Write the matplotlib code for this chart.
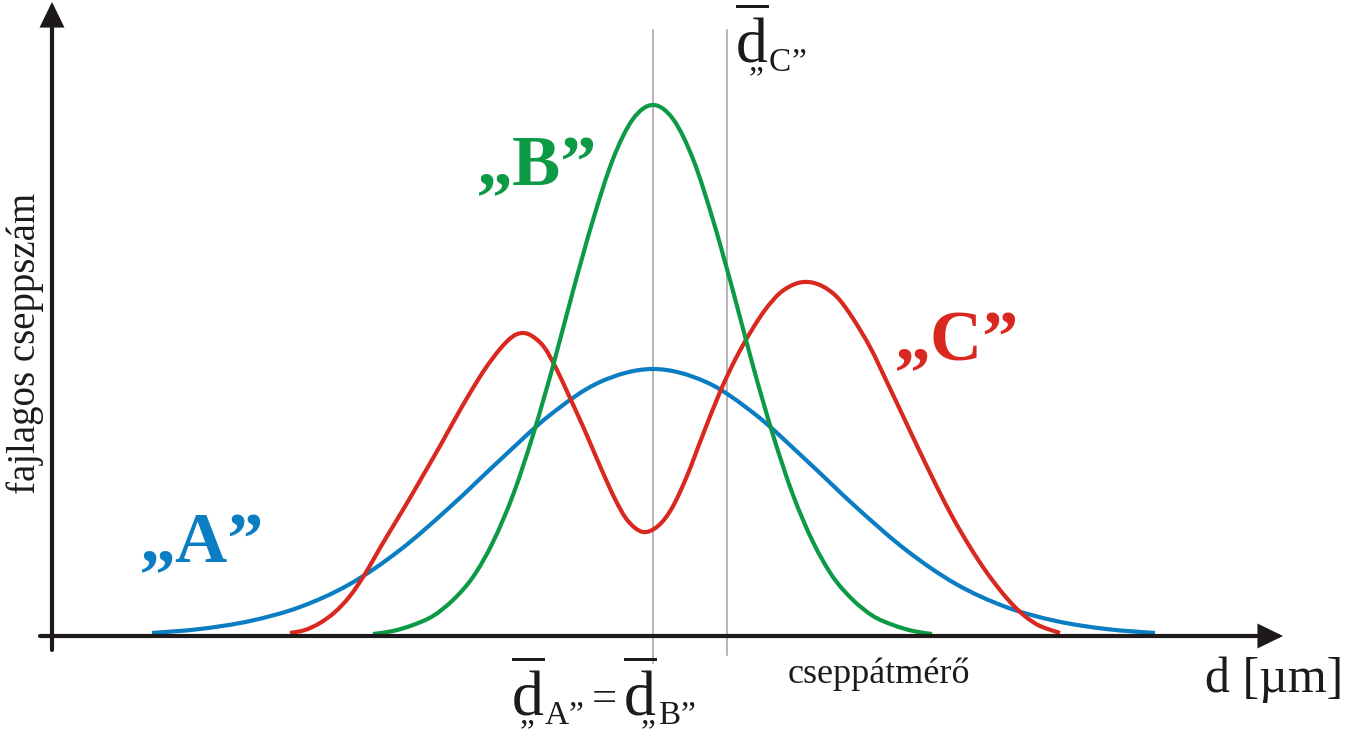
import matplotlib
matplotlib.use('Agg')
import matplotlib.pyplot as plt
import matplotlib._mathtext as _mt
from matplotlib.path import Path
from matplotlib.patches import PathPatch, FancyArrowPatch, ArrowStyle

_mt.SHRINK_FACTOR = 0.52   # smaller subscripts, as in the reference

plt.rcParams['font.family'] = ['Liberation Serif', 'DejaVu Serif']
plt.rcParams['mathtext.fontset'] = 'custom'
plt.rcParams['mathtext.rm'] = 'Liberation Serif'
plt.rcParams['mathtext.it'] = 'Liberation Serif:italic'
plt.rcParams['mathtext.bf'] = 'Liberation Serif:bold'

# ---------------- data (droplet diameter d, relative droplet count) -------------
blue_d = [152, 200, 250, 300, 350, 400, 450, 500, 550, 600, 653,
          706, 756, 806, 856, 906, 956, 1006, 1056, 1106, 1155]
blue_n = [3, 7, 15, 29, 52, 86, 129, 176, 221, 254, 267,
          254, 221, 176, 129, 86, 52, 29, 15, 7, 3]

green_d = [373, 393, 413, 433, 453, 473, 493, 513, 533, 553, 573, 593, 613, 633,
           653, 673, 693, 713, 733, 753, 773, 793, 813, 833, 853, 873, 893, 913, 932]
green_n = [2, 5, 11, 20, 36, 59, 94, 141, 201, 270, 345, 416, 477, 517,
           531, 517, 477, 416, 345, 270, 201, 141, 94, 59, 36, 20, 11, 5, 2]

red_d = [290, 305, 320, 335, 350, 365, 380, 395, 410, 425, 440, 455, 470, 485,
         500, 512, 522, 532, 544, 556, 570, 585, 600, 615, 628, 643, 658, 672,
         687, 702, 720, 735, 750, 765, 780, 795, 808, 822, 837, 852, 870, 886,
         903, 920, 937, 953, 970, 985, 1000, 1013, 1026, 1040, 1060]
red_n = [3, 6, 13, 24, 40, 62, 88, 113, 138, 164, 190, 217, 243, 267,
         287, 299, 303, 300, 289, 268, 238, 205, 170, 137, 115, 104, 110, 128,
         160, 199, 244, 276, 303, 326, 343, 352, 354, 350, 339, 319, 289, 256,
         220, 184, 149, 118, 89, 66, 46, 31, 19, 10, 3]

mean_d = [653, 727]          # mean diameters: A = B, C
series_labels = ['\u201eA\u201d', '\u201eB\u201d', '\u201eC\u201d']

BLUE = '#0b7dc3'
GREEN = '#0c9a47'
RED = '#d8281f'
AXIS = '#1e1a1a'
GRAY = '#a0a0a0'


def smooth_path(xs, ys):
    pts = list(zip(xs, ys))
    n = len(pts)
    verts = [pts[0]]
    codes = [Path.MOVETO]
    for i in range(n - 1):
        p0 = pts[i - 1] if i > 0 else pts[i]
        p1 = pts[i]
        p2 = pts[i + 1]
        p3 = pts[i + 2] if i + 2 < n else pts[i + 1]
        c1 = (p1[0] + (p2[0] - p0[0]) / 6.0, p1[1] + (p2[1] - p0[1]) / 6.0)
        c2 = (p2[0] - (p3[0] - p1[0]) / 6.0, p2[1] - (p3[1] - p1[1]) / 6.0)
        verts += [c1, c2, p2]
        codes += [Path.CURVE4] * 3
    return Path(verts, codes)


def mean_label(letter, back, gap):
    return ('$\\overline{\\mathrm{d}}_{\\hspace{%.2f}\\mathrm{\u201e}\\hspace{%.2f}'
            '\\mathrm{%s\u201d}}$' % (back, gap, letter))


fig = plt.figure(figsize=(13.45, 7.46), dpi=100)
ax = fig.add_axes([0, 0, 1, 1])
ax.set_xlim(0, 1345)
ax.set_ylim(-110, 636)
ax.axis('off')

# mean lines
ax.plot([mean_d[0], mean_d[0]], [606, -27], color=GRAY, lw=1.1, zorder=1)
ax.plot([mean_d[1], mean_d[1]], [606, -19], color=GRAY, lw=1.1, zorder=1)

# curves
for xs, ys, col, z in [(blue_d, blue_n, BLUE, 3), (red_d, red_n, RED, 4),
                       (green_d, green_n, GREEN, 5)]:
    ax.add_patch(PathPatch(smooth_path(xs, ys), facecolor='none', edgecolor=col,
                           lw=3.0, capstyle='butt', zorder=z))

# axes with arrows
style = ArrowStyle('-|>', head_length=0.45, head_width=0.22)
ax.add_patch(FancyArrowPatch((40, 0), (1283, 0), arrowstyle=style, mutation_scale=30,
                             color=AXIS, lw=3.0, shrinkA=0, shrinkB=0, zorder=6,
                             joinstyle='miter'))
ax.add_patch(FancyArrowPatch((52, -14), (52, 634), arrowstyle=style, mutation_scale=30,
                             color=AXIS, lw=3.0, shrinkA=0, shrinkB=0, zorder=6,
                             joinstyle='miter'))

# axis titles
ax.text(25, 293, 'fajlagos cseppszám', rotation=90, ha='center', va='center',
        fontsize=28, color=AXIS)
ax.text(788, -47, 'cseppátmérő', ha='left', va='baseline', fontsize=26, color=AXIS)
ax.text(1343, -56, 'd [µm]', ha='right', va='baseline', fontsize=36, color=AXIS)

# mean labels
ax.text(511, -80, mean_label('A', -1.0, 0.43), ha='left', va='baseline',
        fontsize=46, color=AXIS)
ax.text(592, -75, '=', ha='left', va='baseline', fontsize=32, color=AXIS)
ax.text(623, -80, mean_label('B', -0.6, 0.1), ha='left', va='baseline',
        fontsize=46, color=AXIS)
ax.text(735, 573, mean_label('C', -0.8, 0.25), ha='left', va='baseline',
        fontsize=46, color=AXIS)

# series labels
ax.text(140, 74, series_labels[0], ha='left', va='baseline', fontsize=52,
        fontweight='bold', color=BLUE)
ax.text(477, 451, series_labels[1], ha='left', va='baseline', fontsize=52,
        fontweight='bold', color=GREEN)
ax.text(895, 276, series_labels[2], ha='left', va='baseline', fontsize=52,
        fontweight='bold', color=RED)

fig.savefig('out.png', dpi=100)
